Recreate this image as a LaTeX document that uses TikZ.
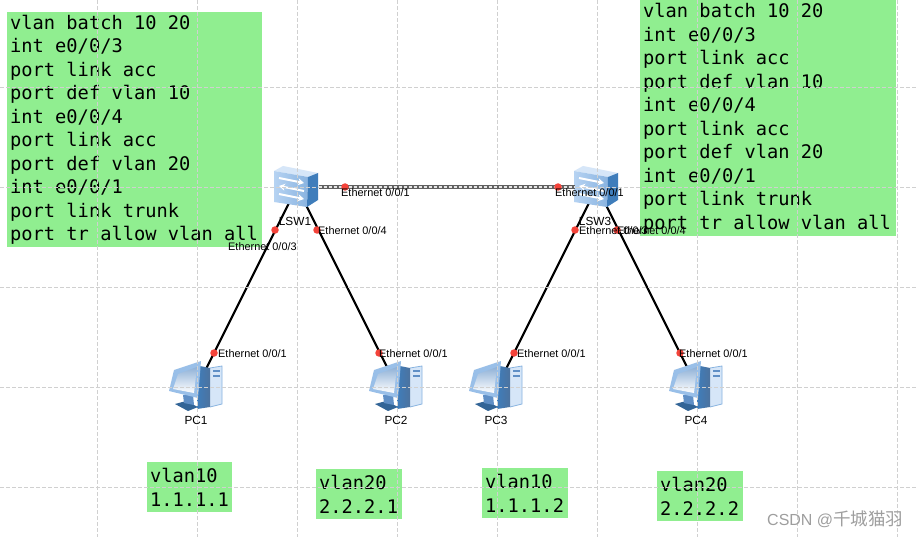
\documentclass[tikz,border=0pt]{standalone}
\usepackage{fontspec}
\setmainfont{Liberation Sans}
\newfontfamily\codefont{DejaVu Sans Mono}
\newfontfamily\cjkfont{Noto Sans CJK SC}
\definecolor{boxgreen}{HTML}{90EE90}
\definecolor{gridgray}{HTML}{D0D0D0}
\definecolor{iconlight}{HTML}{A9CBF0}
\definecolor{iconpale}{HTML}{D6E6F8}
\definecolor{icondark}{HTML}{3F7DBB}
\definecolor{iconmid}{HTML}{5F8FC6}
\definecolor{portred}{HTML}{F4433A}
\usetikzlibrary{arrows.meta}
\tikzset{
swicon/.pic = {
\fill [iconpale] (-23,-16) -- (-14,-21) -- (21,-14) -- (11,-10) -- cycle;
\shade [left color=iconlight!85!white, right color=iconlight!70!icondark] (-23,-16) -- (11,-10) -- (10,20) -- (-23,15) -- cycle;
\fill [icondark] (11,-10) -- (21,-14) -- (21,13) -- (10,20) -- cycle;
\draw [white, line width=2pt, -{Stealth[length=6pt,width=7pt]}] (-18,-9) -- (7,-4); \draw [white, line width=2pt, {Stealth[length=6pt,width=7pt]}-] (-18,-1) -- (7,4); \draw [white, line width=2pt, -{Stealth[length=6pt,width=7pt]}] (-18,7) -- (7,12);
},
pcicon/.pic = {
\fill [icondark!80!black] (-22,17) -- (-11,14) -- (1,20) -- (-9,24) -- cycle;
\fill [iconmid] (-14,8) -- (-4,8) -- (-3,18) -- (-13,16) -- cycle;
\fill [iconpale] (13,-19) -- (25,-21) -- (25,17) -- (13,20) -- cycle;
\draw [iconlight!70!icondark, line width=0.8pt] (13,-19) -- (25,-21) -- (25,17) -- (13,20);
\shade [left color=icondark, right color=iconmid!80!black] (3,-21) -- (13,-19) -- (13,20) -- (0,22) -- cycle;
\fill [iconlight!85!icondark] (-23,-17) -- (4,-26) -- (1,11) -- (-28,4) -- cycle;
\shade [top color=iconmid!70!white, bottom color=white] (-19,-13) -- (0,-20) -- (-3,6) -- (-24,2) -- cycle;
\fill [iconmid] (16,-17) rectangle (23,-15); \fill [iconmid] (16,-12) rectangle (23,-10);
}}
\begin{document}
\begin{tikzpicture}[x=1pt, y=-1pt,
main/.style = {inner sep=0pt, minimum size=1pt},
port/.style = {circle, fill=portred, inner sep=0pt, minimum size=7.5pt},
portlabel/.style = {anchor=west, inner sep=0pt, font=\fontsize{10.9}{12}\selectfont},
devlabel/.style = {inner sep=0pt, font=\fontsize{11.8}{13}\selectfont},
codebox/.style = {fill=boxgreen, anchor=north west, inner xsep=3pt, inner ysep=0pt, font=\codefont\fontsize{18.7}{23.5}\selectfont, execute at begin node={\spaceskip=11.26pt\relax}},
link/.style = {line width=2.2pt, black},
griddash/.style = {gridgray, line width=0.9pt, dash pattern=on 4pt off 2pt}]
\useasboundingbox (0,0) rectangle (917,537);
\fill [white] (0,0) rectangle (917,537);
\node[main](sw1) at (297,187) {}; \node[main](sw3) at (597,187) {};
\node[main](pc1) at (197,387) {}; \node[main](pc2) at (397,387) {};
\node[main](pc3) at (497,387) {}; \node[main](pc4) at (697,387) {};
\draw [link] (sw1) -- (pc1); \draw [link] (sw1) -- (pc2); \draw [link] (sw3) -- (pc3); \draw [link] (sw3) -- (pc4);
\pic at (sw1) {swicon}; \pic at (sw3) {swicon};
\pic at (pc1) {pcicon}; \pic at (pc2) {pcicon}; \pic at (pc3) {pcicon}; \pic at (pc4) {pcicon};
\node[codebox, minimum width=255pt, minimum height=235pt, text width=249pt](cfg1) at (7,12) {vlan batch 10 20\\int e0/0/3\\port link acc\\port def vlan 10\\int e0/0/4\\port link acc\\port def vlan 20\\int e0/0/1\\port link trunk\\port tr allow vlan all};
\node[codebox, minimum width=256pt, minimum height=236pt, text width=250pt](cfg3) at (640,0) {vlan batch 10 20\\int e0/0/3\\port link acc\\port def vlan 10\\int e0/0/4\\port link acc\\port def vlan 20\\int e0/0/1\\port link trunk\\port tr allow vlan all};
\node[codebox, minimum width=85pt, minimum height=50pt, text width=79pt](addr1) at (147,462) {vlan10\\1.1.1.1};
\node[codebox, minimum width=86pt, minimum height=50pt, text width=80pt](addr2) at (316,469) {vlan20\\2.2.2.1};
\node[codebox, minimum width=86pt, minimum height=50pt, text width=80pt](addr3) at (482,468) {vlan10\\1.1.1.2};
\node[codebox, minimum width=86pt, minimum height=50pt, text width=80pt](addr4) at (657,471) {vlan20\\2.2.2.2};
\draw [griddash] (97,0) -- (97,537); \draw [griddash] (197,0) -- (197,537); \draw [griddash] (297,0) -- (297,537); \draw [griddash] (397,0) -- (397,537); \draw [griddash] (497,0) -- (497,537);
\draw [griddash] (597,0) -- (597,537); \draw [griddash] (697,0) -- (697,537); \draw [griddash] (797,0) -- (797,537); \draw [griddash] (897,0) -- (897,537);
\draw [griddash] (0,87) -- (917,87); \draw [griddash] (0,187) -- (917,187); \draw [griddash] (0,287) -- (917,287); \draw [griddash] (0,387) -- (917,387); \draw [griddash] (0,487) -- (917,487);
\draw [line width=3.4pt, gray!75!black, shorten <=21pt, shorten >=21pt] (sw1) -- (sw3); \draw [line width=1.2pt, gray!20, dash pattern=on 3pt off 2pt, shorten <=21pt, shorten >=21pt] (sw1) -- (sw3);
\node[port](p1) at (345,187) {}; \node[port](p2) at (275,230) {}; \node[port](p3) at (317,230) {};
\node[port](p4) at (558,187) {}; \node[port](p5) at (575,230) {}; \node[port](p6) at (617,230) {};
\node[port](p7) at (214,353) {}; \node[port](p8) at (379,353) {}; \node[port](p9) at (514,353) {}; \node[port](p10) at (680,353) {};
\node[portlabel](l1) at (341,193) {Ethernet 0/0/1}; \node[portlabel](l2) at (228,247) {Ethernet 0/0/3}; \node[portlabel](l3) at (318,231) {Ethernet 0/0/4};
\node[portlabel](l4) at (555,193) {Ethernet 0/0/1}; \node[portlabel](l5) at (579,231) {Ethernet 0/0/3}; \node[portlabel](l6) at (617,231) {Ethernet 0/0/4};
\node[portlabel](l7) at (218,354) {Ethernet 0/0/1}; \node[portlabel](l8) at (379,354) {Ethernet 0/0/1};
\node[portlabel](l9) at (517,354) {Ethernet 0/0/1}; \node[portlabel](l10) at (679,354) {Ethernet 0/0/1};
\node[devlabel](n1) at (295,221) {LSW1}; \node[devlabel](n3) at (595,221) {LSW3};
\node[devlabel](n4) at (196,420) {PC1}; \node[devlabel](n5) at (396,420) {PC2}; \node[devlabel](n6) at (496,420) {PC3}; \node[devlabel](n7) at (696,420) {PC4};
\node[anchor=west, inner sep=0pt, text=black!38, font=\fontsize{16}{18}\selectfont](mark) at (767,519) {CSDN @{\cjkfont\fontsize{17.5}{18}\selectfont 千城猫羽}};
\end{tikzpicture}
\end{document}
